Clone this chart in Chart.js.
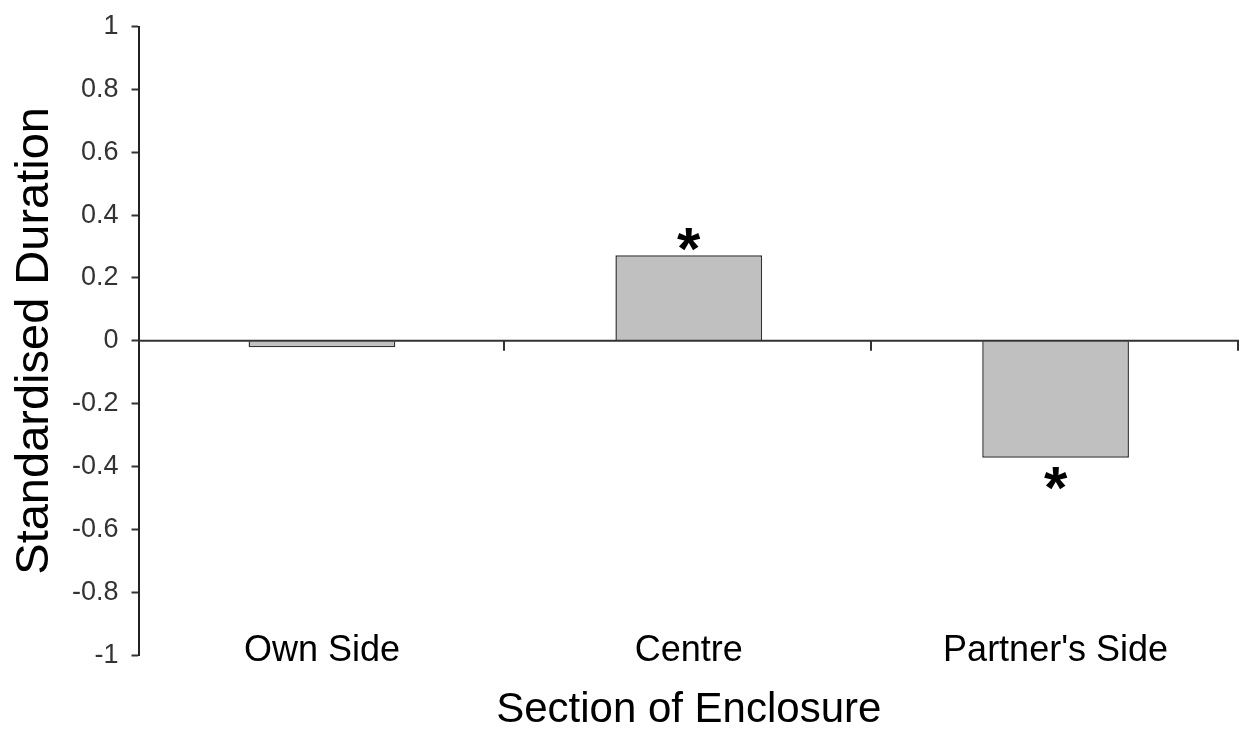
<!DOCTYPE html>
<html lang="en">
  <head>
    <meta charset="utf-8" />
    <title>Standardised Duration by Section of Enclosure</title>
    <style>
      html, body { margin: 0; padding: 0; background: #fff; }
      #wrap { width: 1247px; height: 731px; }
    </style>
  </head>
  <body>
    <div id="wrap"><canvas id="chart"></canvas></div>

    <script src="https://cdn.jsdelivr.net/npm/chart.js@4/dist/chart.umd.min.js"></script>
    <script>
      const sections = ['Own Side', 'Centre', "Partner's Side"];
      const durations = [-0.02, 0.272, -0.372];
      const significant = [false, true, true];

      // zero line plus the little tick marks between categories
      const zeroAxis = {
        id: 'zeroAxis',
        afterDatasetsDraw(chart) {
          const { ctx, scales: { y }, chartArea } = chart;
          const y0 = y.getPixelForValue(0);
          const step = (chartArea.right - chartArea.left) / sections.length;
          ctx.save();
          ctx.strokeStyle = '#333';
          ctx.lineWidth = 2;
          ctx.beginPath();
          ctx.moveTo(chartArea.left, y0);
          ctx.lineTo(chartArea.right, y0);
          for (let i = 1; i <= sections.length; i++) {
            const px = Math.round(chartArea.left + i * step) - 1;
            ctx.moveTo(px, y0);
            ctx.lineTo(px, y0 + 10);
          }
          ctx.stroke();
          ctx.restore();
        }
      };

      const stars = {
        id: 'stars',
        afterDatasetsDraw(chart) {
          const { ctx } = chart;
          const bars = chart.getDatasetMeta(0).data;
          ctx.save();
          ctx.fillStyle = '#000';
          ctx.font = 'bold 60px "Liberation Sans", Arial, sans-serif';
          ctx.textAlign = 'center';
          ctx.textBaseline = 'alphabetic';
          const m = ctx.measureText('*');
          const mid = (m.actualBoundingBoxAscent - m.actualBoundingBoxDescent) / 2;
          bars.forEach((bar, i) => {
            if (!significant[i]) return;
            const up = durations[i] >= 0;
            const cy = up ? bar.y - 16 : bar.y + 21;
            ctx.fillText('*', bar.x, cy + mid);
          });
          ctx.restore();
        }
      };

      new Chart(document.getElementById('chart'), {
        type: 'bar',
        data: {
          labels: sections,
          datasets: [{
            data: durations,
            backgroundColor: '#c0c0c0',
            borderColor: '#333',
            borderWidth: 1.5,
            barPercentage: 0.4,
            categoryPercentage: 1
          }]
        },
        options: {
          responsive: true,
          maintainAspectRatio: false,
          animation: false,
          layout: { padding: { left: 4, right: 8, top: 0, bottom: 0 } },
          plugins: { legend: { display: false }, tooltip: { enabled: false } },
          scales: {
            x: {
              grid: { display: false, drawTicks: false },
              border: { display: false },
              ticks: {
                color: '#000',
                mirror: true,
                padding: -17.6,
                font: { family: '"Liberation Sans", Arial, sans-serif', size: 36 }
              },
              title: {
                display: true,
                text: 'Section of Enclosure',
                color: '#000',
                padding: { top: 69, bottom: 0 },
                font: { family: '"Liberation Sans", Arial, sans-serif', size: 42, lineHeight: 1 }
              }
            },
            y: {
              min: -1,
              max: 1,
              ticks: {
                stepSize: 0.2,
                color: '#333',
                padding: 13,
                font: { family: '"Liberation Sans", Arial, sans-serif', size: 27, lineHeight: 1 },
                callback: v => Math.round(v * 10) / 10
              },
              grid: {
                drawOnChartArea: false,
                tickLength: 7,
                tickColor: '#333',
                tickWidth: 2
              },
              border: { display: true, color: '#222', width: 2 },
              title: {
                display: true,
                text: 'Standardised Duration',
                color: '#000',
                padding: { top: 8, bottom: 0 },
                font: { family: '"Liberation Sans", Arial, sans-serif', size: 47, lineHeight: 1 }
              }
            }
          }
        },
        plugins: [zeroAxis, stars]
      });
    </script>
  </body>
</html>
